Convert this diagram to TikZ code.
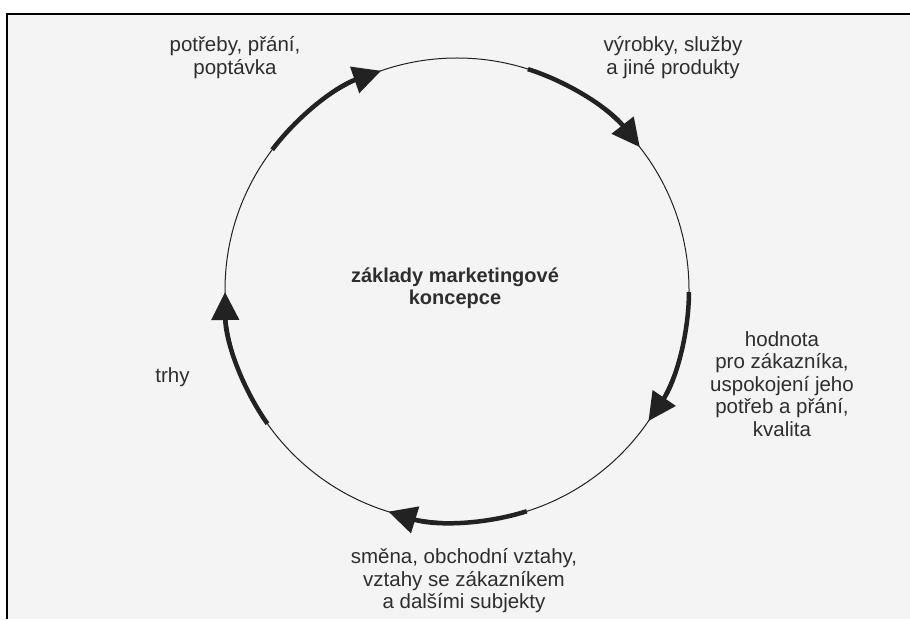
\documentclass[tikz,border=0pt]{standalone}
\usepackage{fontspec}
\setmainfont{Liberation Sans}
\usetikzlibrary{arrows.meta,calc}
\definecolor{ink}{HTML}{2E2E2E}
\definecolor{paper}{HTML}{F4F4F4}
\definecolor{linec}{HTML}{222222}
\begin{document}
\begin{tikzpicture}[x=1pt,y=1pt,
  lbl/.style={text=ink, font=\fontsize{20.5}{22.5}\selectfont, align=center, inner sep=0pt},
  title/.style={lbl, font=\fontsize{20}{22}\selectfont\bfseries},
  ring/.style={draw=linec, line width=1pt},
  flow/.style={draw=linec, line width=4.5pt, -{Triangle[length=28pt,width=27pt]}},
]
\useasboundingbox (0,0) rectangle (910,619);
\fill[white] (0,0) rectangle (910,619);
\fill[paper] (7,0) rectangle (910,605);
\draw[line width=2pt, black] (7,0) -- (7,605) -- (910,605);
\coordinate (c) at (457,329);
\draw[ring] (c) circle[radius=232];
% arc start points
\coordinate (s1) at ($(c)+(142.8:232)$);
\coordinate (s2) at ($(c)+(72.2:232)$);
\coordinate (s3) at ($(c)+(-0.5:232)$);
\coordinate (s4) at ($(c)+(-72.5:232)$);
\coordinate (s5) at ($(c)+(-144.8:232)$);
\draw[flow] (s1) arc[start angle=142.8, end angle=109.1, radius=232];
\draw[flow] (s2) arc[start angle=72.2, end angle=38, radius=232];
\draw[flow] (s3) arc[start angle=-0.5, end angle=-34.4, radius=232];
\draw[flow] (s4) arc[start angle=-72.5, end angle=-107.2, radius=232];
\draw[flow] (s5) arc[start angle=-144.8, end angle=-179.5, radius=232];
% labels
\node[title] (center) at (455,330.5) {základy marketingové\\koncepce};
\node[lbl] (needs) at (235,561.5) {potřeby, přání,\\poptávka};
\node[lbl] (products) at (673,561.5) {výrobky, služby\\a jiné produkty};
\node[lbl] (value) at (782,235) {hodnota\\pro zákazníka,\\uspokojení jeho\\potřeb a přání,\\kvalita};
\node[lbl] (exchange) at (464,38) {směna, obchodní vztahy,\\vztahy se zákazníkem\\a dalšími subjekty};
\node[lbl] (markets) at (172.5,242) {trhy};
\end{tikzpicture}
\end{document}
